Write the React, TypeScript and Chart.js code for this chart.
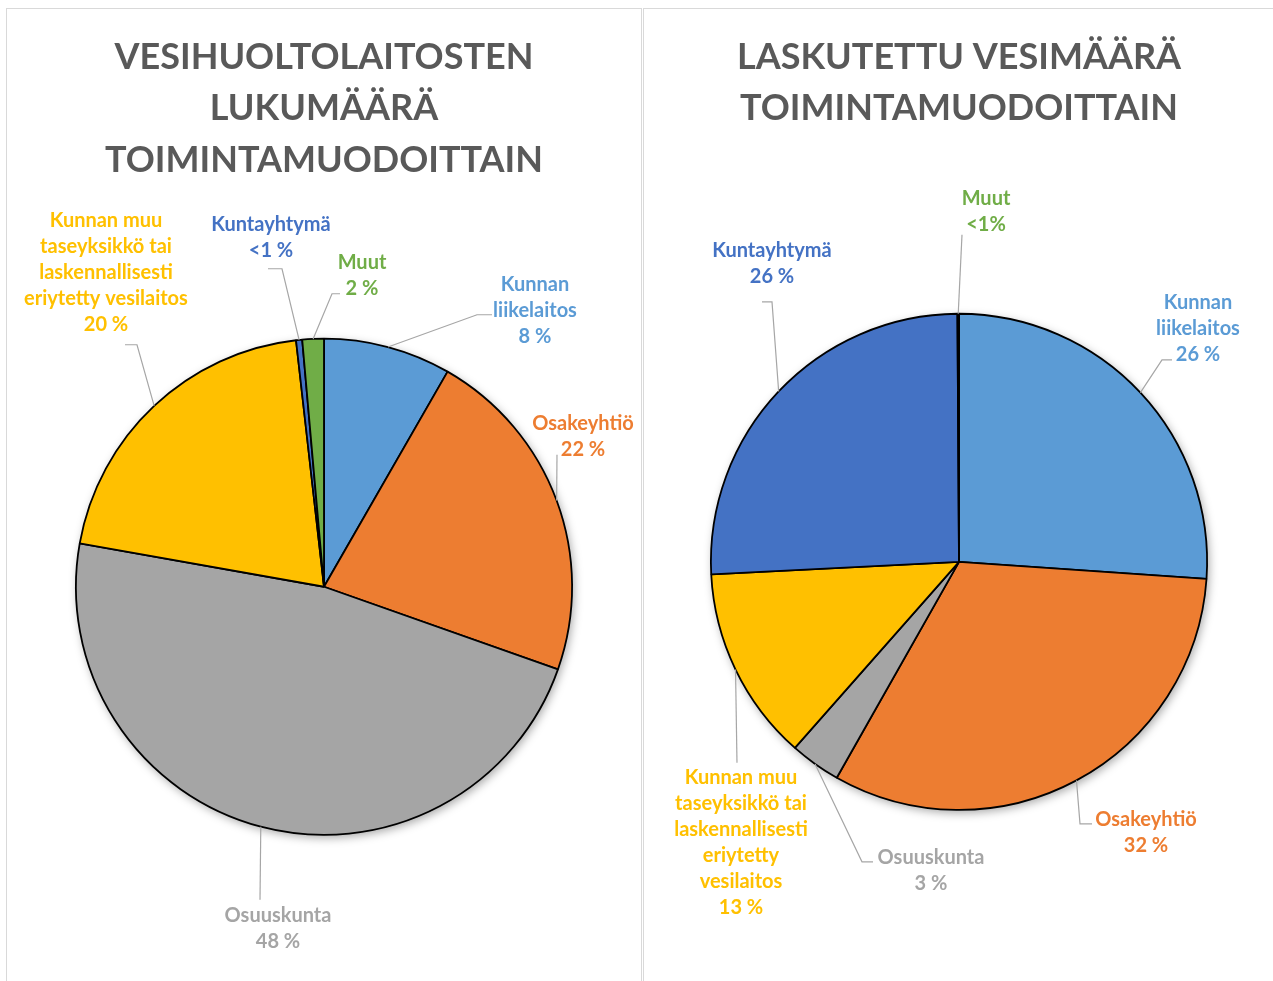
import React, { useEffect, useRef } from "react";
import { Chart, registerables } from "chart.js";

Chart.register(...registerables);

// ---- data ----
const categories = [
  "Kunnan liikelaitos",
  "Osakeyhtiö",
  "Osuuskunta",
  "Kunnan muu taseyksikkö tai laskennallisesti eriytetty vesilaitos",
  "Kuntayhtymä",
  "Muut",
];
const countShares = [8.3, 22.1, 47.4, 20.4, 0.4, 1.4];
const volumeShares = [26.1, 32.1, 3.3, 12.7, 25.7, 0.1];
const countPctLabels = ["8 %", "22 %", "48 %", "20 %", "<1 %", "2 %"];
const volumePctLabels = ["26 %", "32 %", "3 %", "13 %", "26 %", "<1%"];
const countTitle = ["VESIHUOLTOLAITOSTEN", "LUKUMÄÄRÄ", "TOIMINTAMUODOITTAIN"];
const volumeTitle = ["LASKUTETTU VESIMÄÄRÄ", "TOIMINTAMUODOITTAIN"];

// ---- style ----
const colors = ["#5B9BD5", "#ED7D31", "#A5A5A5", "#FFC000", "#4472C4", "#70AD47"];
const FONT = "Lato, 'Open Sans', sans-serif";

type LabelLayout = {
  lines: string[];
  lx: number;
  ly: number;
  ex: number;
  ey: number;
  tx?: number;
};

const countLayout: LabelLayout[] = [
  { lines: ["Kunnan", "liikelaitos"], lx: 211, ly: -302, ex: 153, ey: -272, tx: 168 },
  { lines: ["Osakeyhtiö"], lx: 259, ly: -163, ex: 233, ey: -132 },
  { lines: ["Osuuskunta"], lx: -46, ly: 329, ex: -64, ey: 313 },
  { lines: ["Kunnan muu", "taseyksikkö tai", "laskennallisesti", "eriytetty vesilaitos"], lx: -218, ly: -366, ex: -187, ey: -242, tx: -199 },
  { lines: ["Kuntayhtymä"], lx: -53, ly: -362, ex: -42, ey: -318, tx: -56 },
  { lines: ["Muut"], lx: 38, ly: -324, ex: 8, ey: -293, tx: 16 },
];

const volumeLayout: LabelLayout[] = [
  { lines: ["Kunnan", "liikelaitos"], lx: 239, ly: -259, ex: 203, ey: -202, tx: 213 },
  { lines: ["Osakeyhtiö"], lx: 187, ly: 258, ex: 121, ey: 262, tx: 133 },
  { lines: ["Osuuskunta"], lx: -28, ly: 296, ex: -97, ey: 300, tx: -86 },
  { lines: ["Kunnan muu", "taseyksikkö tai", "laskennallisesti", "eriytetty", "vesilaitos"], lx: -218, ly: 216, ex: -222, ey: 201 },
  { lines: ["Kuntayhtymä"], lx: -187, ly: -311, ex: -187, ey: -260, tx: -197 },
  { lines: ["Muut"], lx: 27, ly: -363, ex: 3, ey: -327 },
];

const shadowPlugin = {
  id: "pieShadow",
  beforeDatasetsDraw(chart: any) {
    const arc = chart.getDatasetMeta(0).data[0];
    if (!arc) return;
    const { ctx } = chart;
    ctx.save();
    ctx.shadowColor = "rgba(0,0,0,0.35)";
    ctx.shadowBlur = 10;
    ctx.shadowOffsetX = 2;
    ctx.shadowOffsetY = 3;
    ctx.fillStyle = "#ffffff";
    ctx.beginPath();
    ctx.arc(arc.x, arc.y, arc.outerRadius, 0, Math.PI * 2);
    ctx.fill();
    ctx.restore();
  },
};

const labelPlugin = {
  id: "leaderLabels",
  afterDatasetsDraw(chart: any, _args: any, opts: any) {
    const { ctx } = chart;
    const meta = chart.getDatasetMeta(0);
    const layout: LabelLayout[] = opts.layout;
    const pct: string[] = opts.pct;
    meta.data.forEach((arc: any, i: number) => {
      const L = layout[i];
      const cx = arc.x;
      const cy = arc.y;
      const mid = (arc.startAngle + arc.endAngle) / 2;
      const px = cx + Math.cos(mid) * arc.outerRadius;
      const py = cy + Math.sin(mid) * arc.outerRadius;
      ctx.save();
      ctx.strokeStyle = "#A6A6A6";
      ctx.lineWidth = 1.2;
      ctx.beginPath();
      ctx.moveTo(px, py);
      ctx.lineTo(cx + L.ex, cy + L.ey);
      if (L.tx !== undefined) ctx.lineTo(cx + L.tx, cy + L.ey);
      ctx.stroke();
      ctx.fillStyle = colors[i];
      ctx.font = `bold 20px ${FONT}`;
      ctx.textAlign = "center";
      ctx.textBaseline = "middle";
      const all = [...L.lines, pct[i]];
      all.forEach((t, k) => {
        ctx.fillText(t, cx + L.lx, cy + L.ly + k * 26);
      });
      ctx.restore();
    });
  },
};

function PieChart(props: {
  values: number[];
  pct: string[];
  title: string[];
  layout: LabelLayout[];
  width: number;
  height: number;
  padTitleBottom: number;
  pad: { left: number; right: number; bottom: number };
}) {
  const ref = useRef<HTMLCanvasElement | null>(null);
  useEffect(() => {
    if (!ref.current) return;
    const chart = new Chart(ref.current, {
      type: "pie",
      data: {
        labels: categories,
        datasets: [
          {
            data: props.values,
            backgroundColor: colors,
            borderColor: "#000000",
            borderWidth: 1.8,
          },
        ],
      },
      options: {
        animation: false,
        responsive: false,
        maintainAspectRatio: false,
        layout: {
          padding: { top: 0, left: props.pad.left, right: props.pad.right, bottom: props.pad.bottom },
        },
        plugins: {
          legend: { display: false },
          tooltip: { enabled: false },
          title: {
            display: true,
            text: props.title,
            color: "#595959",
            font: { family: FONT, size: 36, weight: "bold", lineHeight: 1.44 },
            padding: { top: 23, bottom: props.padTitleBottom },
          },
          leaderLabels: { layout: props.layout, pct: props.pct },
        } as any,
      },
      plugins: [shadowPlugin, labelPlugin],
    });
    return () => chart.destroy();
  }, []);
  return <canvas ref={ref} width={props.width} height={props.height} style={{ display: "block" }} />;
}

export default function App() {
  const panel: React.CSSProperties = {
    position: "absolute",
    top: 8,
    height: 1000,
    border: "1.5px solid #D9D9D9",
    boxSizing: "border-box",
    background: "#fff",
  };
  return (
    <div style={{ position: "absolute", left: 0, top: 0, width: 1273, height: 981, overflow: "hidden", background: "#fff" }}>
      <div style={{ ...panel, left: 6, width: 636 }} />
      <div style={{ ...panel, left: 643, width: 660 }} />
      <div style={{ position: "absolute", left: 6, top: 8 }}>
        <PieChart
          values={countShares}
          pct={countPctLabels}
          title={countTitle}
          layout={countLayout}
          width={635}
          height={973}
          padTitleBottom={151}
          pad={{ left: 69, right: 68, bottom: 145 }}
        />
      </div>
      <div style={{ position: "absolute", left: 643, top: 8 }}>
        <PieChart
          values={volumeShares}
          pct={volumePctLabels}
          title={volumeTitle}
          layout={volumeLayout}
          width={630}
          height={973}
          padTitleBottom={178}
          pad={{ left: 67, right: 65, bottom: 170 }}
        />
      </div>
    </div>
  );
}
